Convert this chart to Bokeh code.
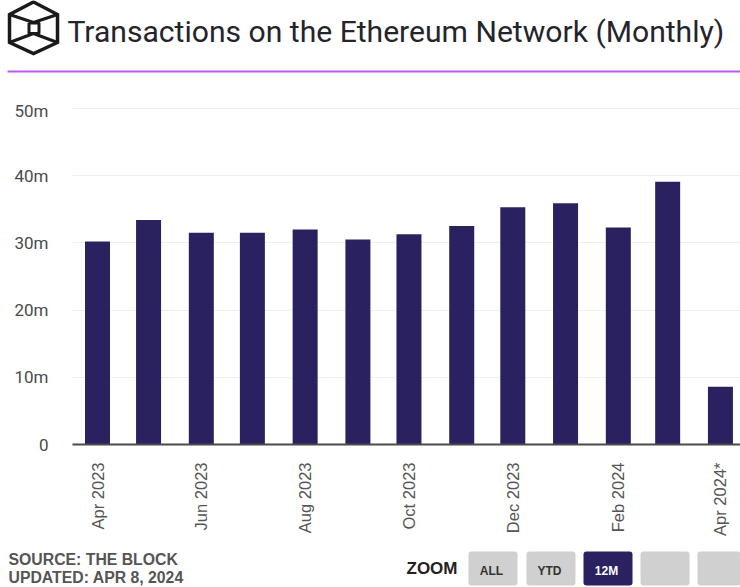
import math
from datetime import datetime
from bokeh.plotting import figure
from bokeh.layouts import column
from bokeh.core.properties import value
from bokeh.embed import file_html
from bokeh.resources import INLINE
from bokeh.models import FixedTicker, Range1d, ColumnDataSource

months = ["2023-04","2023-05","2023-06","2023-07","2023-08","2023-09","2023-10","2023-11","2023-12","2024-01","2024-02","2024-03","2024-04"]
values = [30.2,33.4,31.5,31.5,32.0,30.5,31.3,32.5,35.3,35.9,32.3,39.1,8.6]
y_ticks = [0,10,20,30,40,50]
y_labels = ["0","10m","20m","30m","40m","50m"]
x_tick_months = ["2023-04","2023-06","2023-08","2023-10","2023-12","2024-02","2024-04"]
x_labels = ["Apr 2023","Jun 2023","Aug 2023","Oct 2023","Dec 2023","Feb 2024","Apr 2024*"]
title_text = "Transactions on the Ethereum Network (Monthly)"
source_lines = ["SOURCE: THE BLOCK","UPDATED: APR 8, 2024"]
buttons = ["ALL","YTD","12M","",""]
button_lefts = [468,526,583,640,697]

W,H = 740,587
HEAD,FOOT = 100,545   # y where header ends, footer begins
FL,FB = 72,444
BAR,GREY,DARK = "#2a2160","#d0d0d0","#1a1a1a"
def ms(m): return datetime.strptime(m,"%Y-%m").timestamp()*1000
DAY = 86400000.0
t0 = ms("2023-04")
PXDAY = 1.702
x0 = t0 - (97-FL)/PXDAY*DAY
x1 = t0 + (W-97)/PXDAY*DAY

def panel(top,bottom):
    f = figure(width=W,height=bottom-top,output_backend="svg",toolbar_location=None,
        x_range=Range1d(0,W),y_range=Range1d(bottom,top),x_axis_location=None,y_axis_location=None,
        min_border=0,outline_line_color=None,border_fill_color="white",background_fill_color="white",frame_align=False)
    f.grid.visible=False
    return f

head = panel(0,HEAD)
head.patch([33,57,57,33,9,9],[1.5,14,42,53,42,14],fill_alpha=0,line_color=DARK,line_width=3.5,line_join="miter")
head.multi_line([[9,33,57],[9,33,57],[28.5,38.5,38.5,28.5,28.5]],[[14,22,14],[42,33,42],[22.5,22.5,33,33,22.5]],line_color=DARK,line_width=3)
head.text([67],[31],text=[title_text],text_font=value("Roboto"),text_font_size="30.1px",text_color="#24242c",text_baseline="middle")
head.quad(left=[7],right=[W],top=[70],bottom=[72],fill_color="#bb5cf0",line_color=None)

p = figure(width=W,height=FOOT-HEAD,output_backend="svg",toolbar_location=None,
           x_range=Range1d(x0,x1),y_range=Range1d(0,(FB-HEAD)/6.72),x_axis_type="datetime",
           min_border_left=FL,min_border_right=0,min_border_top=0,min_border_bottom=FOOT-FB,
           outline_line_color=None,background_fill_color="white",border_fill_color="white",frame_align=False)
src = ColumnDataSource(dict(x=[ms(m) for m in months],top=values))
p.vbar(x="x",top="top",bottom=0,width=25/PXDAY*DAY,source=src,fill_color=BAR,line_color=None)
p.xgrid.visible=False
p.ygrid.ticker=FixedTicker(ticks=y_ticks)
p.ygrid.grid_line_color="#efefef"
p.yaxis.ticker=FixedTicker(ticks=y_ticks)
p.yaxis.major_label_overrides=dict(zip(y_ticks,y_labels))
p.yaxis.axis_line_color=None
p.yaxis.major_tick_line_color=None
p.yaxis.minor_tick_line_color=None
p.yaxis.major_tick_out=0
p.yaxis.major_label_standoff=24
p.yaxis.major_label_text_font="Roboto"
p.yaxis.major_label_text_font_size="17px"
p.yaxis.major_label_text_color="#4a4a4a"
xt=[ms(m) for m in x_tick_months]
p.xaxis.ticker=FixedTicker(ticks=xt)
p.xaxis.major_label_overrides=dict(zip(xt,x_labels))
p.xaxis.axis_line_color="#4a4a4a"
p.xaxis.axis_line_width=2
p.xaxis.major_tick_line_color=None
p.xaxis.minor_tick_line_color=None
p.xaxis.major_tick_out=0
p.xaxis.major_label_orientation=math.pi/2
p.xaxis.major_label_standoff=18
p.xaxis.major_label_text_font="Liberation Sans"
p.xaxis.major_label_text_font_size="16.5px"
p.xaxis.major_label_text_color="#555555"

foot = panel(FOOT,H)
foot.text([8,8],[559,577],text=source_lines,text_font=value("Liberation Sans"),text_font_style="bold",text_font_size="15.8px",text_color="#555555",text_baseline="middle")
foot.text([406],[568],text=["ZOOM"],text_font=value("Liberation Sans"),text_font_style="bold",text_font_size="17px",text_color="#222222",text_baseline="middle")
foot.quad(left=button_lefts,right=[min(l+49,W) for l in button_lefts],top=[551]*5,bottom=[585]*5,
    fill_color=[BAR if t=="12M" else GREY for t in buttons],line_color=None,border_radius=3)
foot.text([l+23 for l in button_lefts],[570]*5,text=buttons,text_font=value("Liberation Sans"),text_font_style="bold",text_font_size="12px",
    text_color=["#ffffff" if t=="12M" else "#333333" for t in buttons],text_align="center",text_baseline="middle")

layout = column(head,p,foot,spacing=0)
open("out.html","w").write(file_html(layout,INLINE))
